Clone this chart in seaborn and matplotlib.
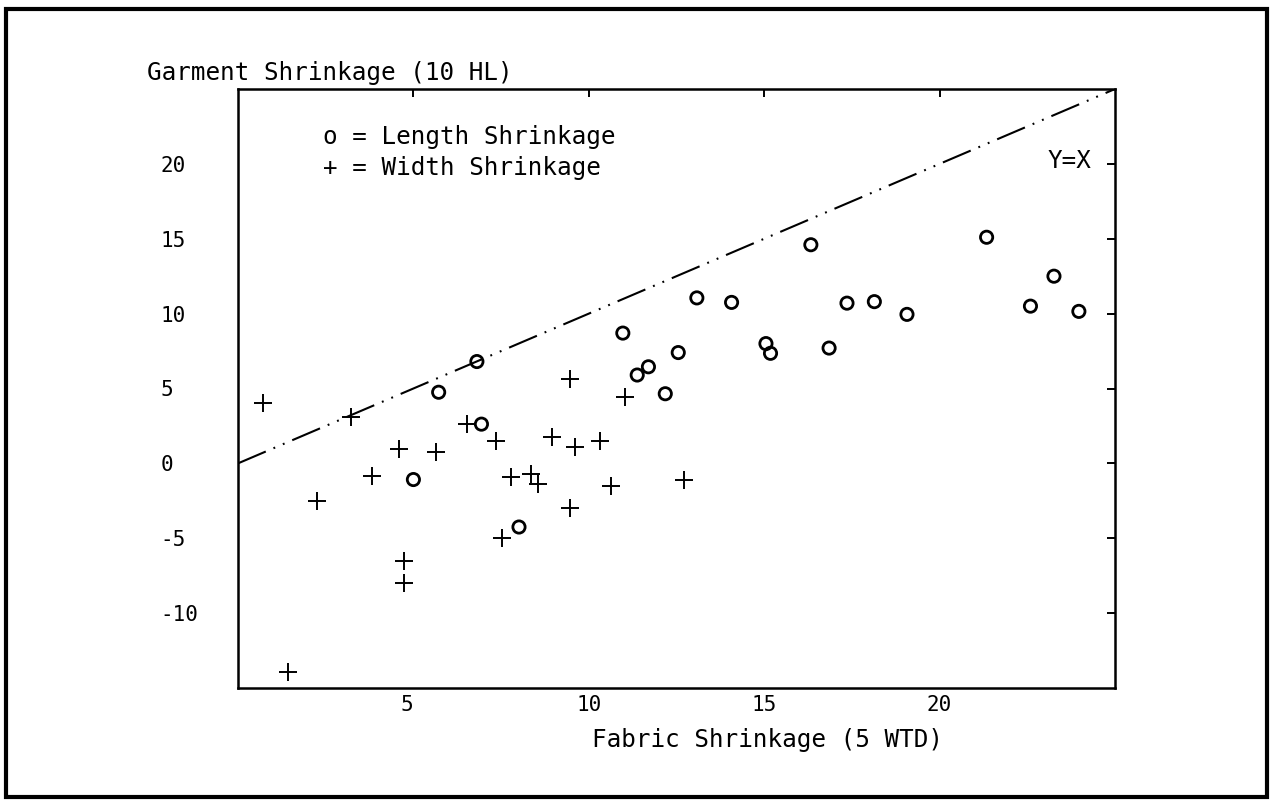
import matplotlib
matplotlib.use("Agg")
import matplotlib.pyplot as plt
import seaborn as sns
from matplotlib.patches import Rectangle

# ---- data ----
length_x = [5.72, 6.81, 6.94, 5.00, 8.01, 10.97, 11.38, 11.70, 12.18, 12.55, 13.08, 14.07,
            15.05, 15.18, 16.33, 16.85, 17.36, 18.14, 19.07, 21.34, 22.59, 23.26, 23.97]
length_y = [4.75, 6.80, 2.62, -1.08, -4.25, 8.70, 5.90, 6.45, 4.65, 7.40, 11.05, 10.75,
            8.00, 7.35, 14.60, 7.70, 10.70, 10.80, 9.95, 15.10, 10.50, 12.50, 10.15]

width_x = [0.70, 3.21, 6.54, 7.35, 4.59, 5.65, 8.96, 9.60, 10.33, 3.81, 2.24, 7.79,
           8.34, 8.55, 9.45, 10.64, 12.72, 7.52, 4.72, 4.72, 1.43, 9.45, 11.03]
width_y = [4.00, 3.13, 2.62, 1.52, 0.95, 0.74, 1.76, 1.12, 1.52, -0.83, -2.48, -0.88,
           -0.72, -1.38, -2.98, -1.50, -1.13, -5.00, -6.49, -7.96, -13.95, 5.62, 4.43]

ref_line_x = [0, 25]
ref_line_y = [0, 25]

x_ticks = [5, 10, 15, 20]
x_tick_labels = ["5 ", "10", "15", "20"]
y_ticks = [-10, -5, 0, 5, 10, 15, 20]
y_tick_labels = ["-10", "-5", "0", "5", "10", "15", "20"]

x_label = "Fabric Shrinkage (5 WTD)"
y_label = "Garment Shrinkage (10 HL)"
legend_lines = ["o = Length Shrinkage", "+ = Width Shrinkage"]
ref_label = "Y=X"

# ---- style ----
sns.set_style("white")
plt.rcParams["font.family"] = ["DejaVu Sans Mono", "DejaVu Sans"]
plt.rcParams["text.color"] = "black"
plt.rcParams["axes.labelcolor"] = "black"

W, H = 1276, 800
fig = plt.figure(figsize=(W / 100, H / 100), dpi=100)
left, right, top, bottom = 238, 1115, 89, 688
ax = fig.add_axes([left / W, 1 - bottom / H, (right - left) / W, (bottom - top) / H])

# reference line Y=X (dash-dot-dot)
sns.lineplot(x=ref_line_x, y=ref_line_y, ax=ax, color="black", linewidth=1.5)
ax.lines[-1].set_dashes((14.5, 4.0, 0.9, 4.0, 0.9, 4.0))

# points
sns.scatterplot(x=length_x, y=length_y, ax=ax, marker="o", s=78,
                facecolors="none", edgecolor="black", linewidth=2.0, zorder=3)
sns.scatterplot(x=width_x, y=width_y, ax=ax, marker="+", s=150,
                color="black", linewidth=1.4, zorder=3)

ax.set_xlim(0, 25)
ax.set_ylim(-15, 25)
ax.set_xticks(x_ticks)
ax.set_xticklabels(x_tick_labels)
ax.set_yticks(y_ticks)
ax.set_yticklabels(y_tick_labels)

for sp in ax.spines.values():
    sp.set_linewidth(1.8)
    sp.set_color("black")

ax.tick_params(direction="in", length=6, width=1.4, top=True, right=True,
               labelsize=15, colors="black")
ax.tick_params(axis="y", pad=56)
ax.tick_params(axis="x", pad=5)
for lab in ax.get_yticklabels():
    lab.set_horizontalalignment("left")

# axis labels
ax.set_xlabel(x_label, fontsize=17.5, color="black")
ax.xaxis.set_label_coords((767 - left) / (right - left), -(740 - bottom) / (bottom - top))
ax.xaxis.label.set_verticalalignment("center")
ax.set_ylabel(y_label, fontsize=17.5, rotation=0, color="black")
ax.yaxis.set_label_coords((147 - left) / (right - left), (bottom - 73) / (bottom - top))
ax.yaxis.label.set_horizontalalignment("left")
ax.yaxis.label.set_verticalalignment("center")

# legend-like text
ax.text((323 - left) / (right - left), (bottom - 137) / (bottom - top), legend_lines[0],
        transform=ax.transAxes, ha="left", va="center", fontsize=17.5, color="black")
ax.text((323 - left) / (right - left), (bottom - 168) / (bottom - top), legend_lines[1],
        transform=ax.transAxes, ha="left", va="center", fontsize=17.5, color="black")
ax.text((1091 - left) / (right - left), (bottom - 161) / (bottom - top), ref_label,
        transform=ax.transAxes, ha="right", va="center", fontsize=17.5, color="black")

# outer frame
fig.add_artist(Rectangle((6 / W, 1 - 797 / H), (1267 - 6) / W, (797 - 9) / H,
                         transform=fig.transFigure, fill=False, lw=3, ec="black"))

fig.savefig("out.png", dpi=100)
